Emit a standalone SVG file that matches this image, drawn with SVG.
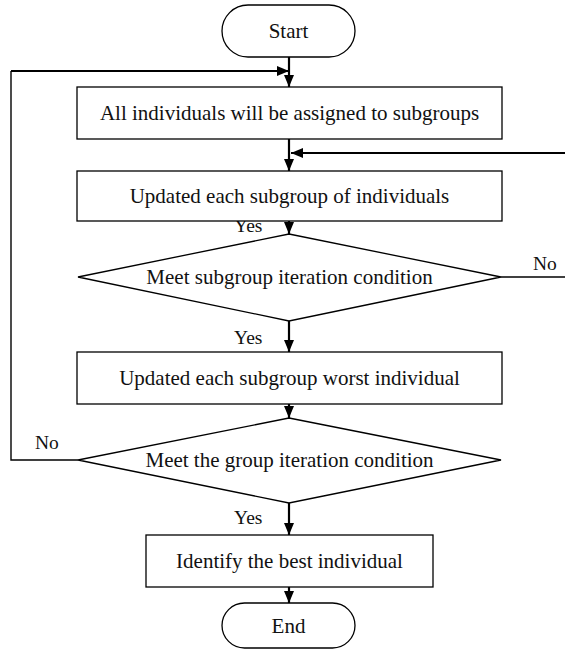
<svg xmlns="http://www.w3.org/2000/svg" width="565" height="650" viewBox="0 0 565 650">
<style>
.shape{fill:#fff;stroke:#000;stroke-width:1.3}
.t{font-family:"Liberation Serif","Times New Roman",serif;font-size:21px;fill:#111;text-anchor:middle}
.lbl{font-family:"Liberation Serif","Times New Roman",serif;font-size:19.5px;fill:#111}
.c{fill:none;stroke:#000;stroke-width:2.2}
.c2{fill:none;stroke:#000;stroke-width:1.4}
</style>
<defs>
<marker id="ah" markerUnits="userSpaceOnUse" markerWidth="12" markerHeight="12" viewBox="0 0 12 12" refX="12" refY="6" orient="auto">
<path d="M0,1 L12,6 L0,11 Z" fill="#000"/>
</marker>
</defs>
<rect width="565" height="650" fill="#fff"/>
<g id="connectors">
<path class="c" d="M289,57 V87" marker-end="url(#ah)"/>
<path class="c" d="M289,139 V171" marker-end="url(#ah)"/>
<path class="c" d="M289,221 V234" marker-end="url(#ah)"/>
<path class="c" d="M289,321 V352" marker-end="url(#ah)"/>
<path class="c" d="M289,404 V418" marker-end="url(#ah)"/>
<path class="c" d="M289,503 V535" marker-end="url(#ah)"/>
<path class="c" d="M289,587 V603" marker-end="url(#ah)"/>
<path class="c2" d="M501,277 H568"/>
<path class="c" d="M568,153 H291" marker-end="url(#ah)"/>
<path class="c2" d="M78,460 H11 V71"/>
<path class="c" d="M11,71 H289" marker-end="url(#ah)"/>
<text class="lbl" x="234" y="232">Yes</text>
<text class="lbl" x="533" y="270">No</text>
<text class="lbl" x="234" y="344">Yes</text>
<text class="lbl" x="35" y="449">No</text>
<text class="lbl" x="234" y="524">Yes</text>
</g>
<g id="start">
<rect class="shape" x="222" y="5" width="133" height="52" rx="26"/>
<text class="t" x="288.5" y="38">Start</text>
</g>
<g id="assign">
<rect class="shape" x="77" y="87" width="425" height="52"/>
<text class="t" x="289.5" y="120">All individuals will be assigned to subgroups</text>
</g>
<g id="update-subgroup">
<rect class="shape" x="77" y="171" width="425" height="50"/>
<text class="t" x="289.5" y="203">Updated each subgroup of individuals</text>
</g>
<g id="subgroup-cond">
<polygon class="shape" points="289,234 501,277 289,321 78,277"/>
<text class="t" x="289.5" y="284">Meet subgroup iteration condition</text>
</g>
<g id="update-worst">
<rect class="shape" x="77" y="352" width="425" height="52"/>
<text class="t" x="289.5" y="385">Updated each subgroup worst individual</text>
</g>
<g id="group-cond">
<polygon class="shape" points="289,418 501,460 289,503 78,460"/>
<text class="t" x="289.5" y="467">Meet the group iteration condition</text>
</g>
<g id="best">
<rect class="shape" x="146" y="535" width="287" height="52"/>
<text class="t" x="289.5" y="568">Identify the best individual</text>
</g>
<g id="end">
<rect class="shape" x="222" y="603" width="133" height="45" rx="22.5"/>
<text class="t" x="288.5" y="633">End</text>
</g>
</svg>
